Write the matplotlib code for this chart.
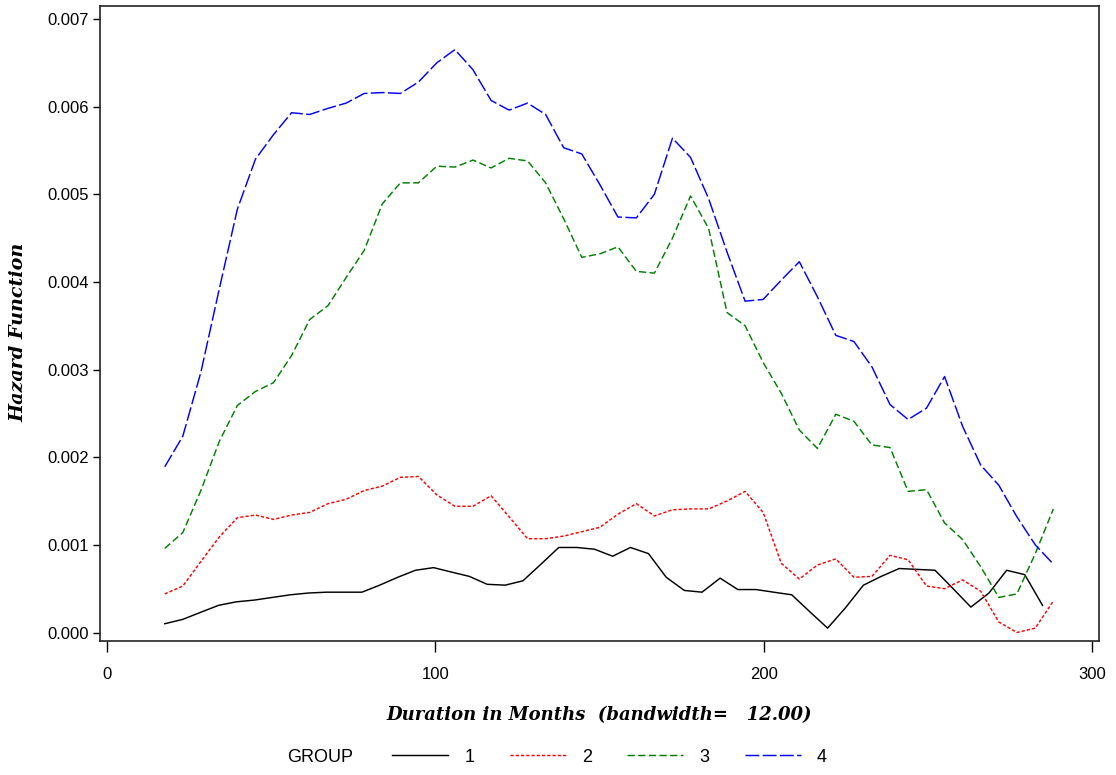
import matplotlib
matplotlib.use("Agg")
from matplotlib import pyplot as plt
from matplotlib.lines import Line2D

# time grid (months) for groups 2-4 and for group 1
months = [17.7, 23.2, 28.7, 34.3, 39.8, 45.3, 50.8, 56.3, 61.8, 67.4,
          72.9, 78.4, 83.9, 89.4, 94.9, 100.5, 106.0, 111.5, 117.0, 122.5,
          128.1, 133.6, 139.1, 144.6, 150.1, 155.6, 161.2, 166.7, 172.2, 177.7,
          183.2, 188.8, 194.3, 199.8, 205.3, 210.8, 216.3, 221.9, 227.4, 232.9,
          238.4, 243.9, 249.5, 255.0, 260.5, 266.0, 271.5, 277.0, 282.6, 288.1]
months_g1 = [17.7, 23.2, 28.6, 34.1, 39.5, 45.0, 50.4, 55.9, 61.3, 66.8,
             72.2, 77.7, 83.1, 88.6, 94.0, 99.5, 104.9, 110.4, 115.8, 121.3,
             126.7, 132.2, 137.6, 143.1, 148.5, 154.0, 159.4, 164.9, 170.3, 175.8,
             181.2, 186.7, 192.1, 197.6, 203.0, 208.5, 213.9, 219.4, 224.8, 230.3,
             235.7, 241.2, 246.6, 252.1, 257.6, 263.0, 268.5, 273.9, 279.4, 284.8]

# hazard values (x 0.001)
group1 = [0.10, 0.15, 0.23, 0.31, 0.35, 0.37, 0.40, 0.43, 0.45, 0.46,
          0.46, 0.46, 0.54, 0.63, 0.71, 0.74, 0.69, 0.64, 0.55, 0.54,
          0.59, 0.78, 0.97, 0.97, 0.95, 0.87, 0.97, 0.90, 0.63, 0.48,
          0.46, 0.62, 0.49, 0.49, 0.46, 0.43, 0.24, 0.05, 0.28, 0.54,
          0.64, 0.73, 0.72, 0.71, 0.50, 0.29, 0.45, 0.71, 0.66, 0.31]
group2 = [0.44, 0.53, 0.81, 1.09, 1.31, 1.34, 1.29, 1.34, 1.37, 1.47,
          1.52, 1.62, 1.67, 1.77, 1.78, 1.57, 1.44, 1.44, 1.56, 1.32,
          1.07, 1.07, 1.10, 1.15, 1.20, 1.35, 1.47, 1.33, 1.40, 1.41,
          1.41, 1.50, 1.61, 1.37, 0.79, 0.61, 0.77, 0.84, 0.63, 0.64,
          0.88, 0.83, 0.53, 0.50, 0.60, 0.47, 0.12, 0.00, 0.05, 0.36]
group3 = [0.96, 1.14, 1.62, 2.18, 2.59, 2.75, 2.85, 3.16, 3.57, 3.73,
          4.05, 4.36, 4.89, 5.13, 5.13, 5.32, 5.31, 5.39, 5.30, 5.41,
          5.38, 5.13, 4.72, 4.28, 4.32, 4.40, 4.12, 4.10, 4.50, 4.98,
          4.61, 3.65, 3.50, 3.08, 2.73, 2.31, 2.10, 2.49, 2.41, 2.14,
          2.11, 1.61, 1.63, 1.25, 1.06, 0.75, 0.40, 0.44, 0.90, 1.41]
group4 = [1.89, 2.24, 2.97, 3.92, 4.83, 5.40, 5.68, 5.93, 5.91, 5.98,
          6.04, 6.15, 6.16, 6.15, 6.28, 6.50, 6.65, 6.42, 6.07, 5.96,
          6.04, 5.91, 5.53, 5.46, 5.11, 4.74, 4.73, 5.00, 5.64, 5.42,
          4.95, 4.34, 3.78, 3.80, 4.02, 4.23, 3.83, 3.39, 3.32, 3.03,
          2.60, 2.43, 2.56, 2.92, 2.35, 1.91, 1.68, 1.32, 1.00, 0.78]

group_labels = ['1', '2', '3', '4']
colors = ['black', '#ff0000', '#008000', '#0000ff']
dashes = [None, (2.2, 1.4), (5, 2.3), (9.5, 2.3)]

xs = [months_g1, months, months, months]
ys = [group1, group2, group3, group4]

plt.rcParams['font.family'] = ['Liberation Sans', 'DejaVu Sans']

fig = plt.figure(figsize=(11.16, 7.75), dpi=100)
ax = fig.add_axes([0.0896, 0.1729, 0.8952, 0.8194])

handles = []
for i in range(4):
    yy = [v / 1000.0 for v in ys[i]]
    line, = ax.plot(xs[i], yy, color=colors[i], lw=1.05)
    if dashes[i] is not None:
        line.set_dashes(dashes[i])
    handles.append(Line2D([0], [0], color=colors[i], lw=1.05,
                          dashes=dashes[i] if dashes[i] else (None, None)))

ax.set_xlim(-2.0, 302.0)
ax.set_ylim(-0.000097, 0.007148)
ax.set_xticks([0, 100, 200, 300])
ax.set_yticks([0.000, 0.001, 0.002, 0.003, 0.004, 0.005, 0.006, 0.007])
ax.set_yticklabels(['0.000', '0.001', '0.002', '0.003', '0.004', '0.005', '0.006', '0.007'])
ax.tick_params(axis='y', direction='out', length=5, width=1.0, labelsize=12, pad=3)
ax.tick_params(axis='x', direction='out', length=8, width=1.0, labelsize=12, pad=11)
for s in ax.spines.values():
    s.set_linewidth(1.2)
    s.set_color('#222222')

label_font = dict(family=['DejaVu Serif'], style='italic', weight='bold', size=13)
ax.set_xlabel('Duration in Months  (bandwidth=   12.00)', fontdict=label_font, va='center')
ax.xaxis.set_label_coords(0.5, -0.1165)
ax.set_ylabel('Hazard Function', fontdict=label_font, va='center', size=13.8)
ax.yaxis.set_label_coords(-0.082, 0.486)

fig.text(0.257, 0.023, 'GROUP', fontsize=13, va='center', ha='left')
fig.legend(handles, group_labels, loc='center left', bbox_to_anchor=(0.337, 0.023),
           ncol=4, frameon=False, fontsize=13, handlelength=3.1,
           handletextpad=0.9, columnspacing=1.95)

fig.savefig('out.png', dpi=100)
